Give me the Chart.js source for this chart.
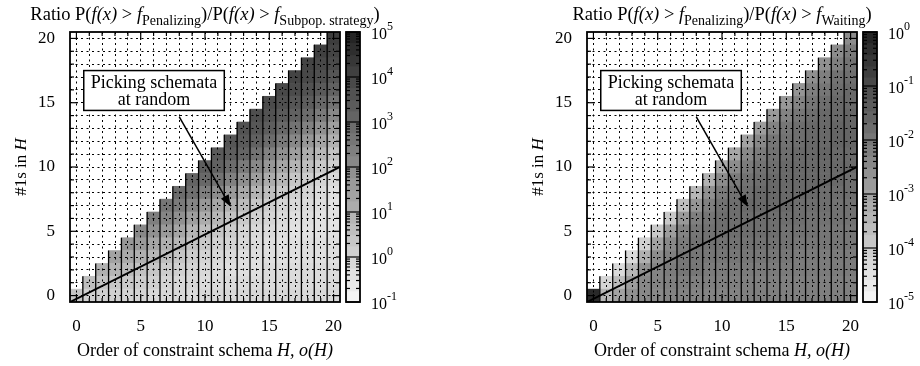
<!DOCTYPE html>
<html lang="en">
<head>
<meta charset="UTF-8">
<title>Ratio heatmaps</title>
<script src="https://cdn.jsdelivr.net/npm/chart.js"></script>
<style>
    html, body { margin: 0; padding: 0; background: #fff; }
    .charts-wrapper { display: flex; width: 920px; height: 366px; }
    .chart-container { position: relative; width: 460px; height: 366px; }
</style>
</head>
<body>
<div class="charts-wrapper">
    <div class="chart-container"><canvas id="subpopChart" width="460" height="366"></canvas></div>
    <div class="chart-container"><canvas id="waitingChart" width="460" height="366"></canvas></div>
</div>

<script>
    // order of constraint schema o(H) (x) and number of 1s in H (y)
    const orders = [0, 1, 2, 3, 4, 5, 6, 7, 8, 9, 10, 11, 12, 13, 14, 15, 16, 17, 18, 19, 20];
    const onesLevels = [0, 1, 2, 3, 4, 5, 6, 7, 8, 9, 10, 11, 12, 13, 14, 15, 16, 17, 18, 19, 20];
    const labelledTicks = [0, 5, 10, 15, 20];

    // log10 of the ratio, one list per column o(H), from the top cell (#1s = o) down to #1s = 0
    const penVsSubpopLog = [
        [0.4],
        [0.6, 0.1],
        [1.0, 0.5, 0.1],
        [1.4, 0.9, 0.4, 0.1],
        [1.7, 1.2, 0.7, 0.3, 0.0],
        [2.1, 1.6, 1.0, 0.5, 0.2, 0.0],
        [2.4, 1.9, 1.3, 0.8, 0.4, 0.1, -0.1],
        [2.6, 2.2, 1.6, 1.0, 0.6, 0.2, 0.0, -0.1],
        [2.9, 2.5, 1.9, 1.3, 0.8, 0.4, 0.1, -0.1, -0.1],
        [3.1, 2.8, 2.2, 1.5, 0.9, 0.5, 0.2, 0.0, -0.1, -0.2],
        [3.3, 3.0, 2.4, 1.7, 1.1, 0.6, 0.3, 0.0, -0.1, -0.2, -0.1],
        [3.4, 3.2, 2.7, 2.0, 1.3, 0.8, 0.4, 0.1, -0.1, -0.2, -0.2, -0.1],
        [3.5, 3.3, 2.9, 2.3, 1.6, 1.0, 0.5, 0.2, 0.0, -0.2, -0.3, -0.2, -0.1],
        [3.6, 3.4, 3.1, 2.5, 1.9, 1.2, 0.7, 0.3, 0.0, -0.1, -0.3, -0.3, -0.2, -0.1],
        [3.7, 3.5, 3.2, 2.7, 2.1, 1.5, 0.9, 0.4, 0.1, -0.1, -0.2, -0.3, -0.3, -0.2, -0.1],
        [3.8, 3.6, 3.3, 2.9, 2.3, 1.7, 1.1, 0.6, 0.2, 0.0, -0.2, -0.3, -0.3, -0.2, -0.2, -0.1],
        [3.9, 3.7, 3.4, 3.0, 2.5, 1.9, 1.3, 0.8, 0.3, 0.0, -0.2, -0.3, -0.4, -0.3, -0.2, -0.2, -0.1],
        [4.0, 3.8, 3.5, 3.2, 2.7, 2.1, 1.5, 0.9, 0.4, 0.1, -0.1, -0.3, -0.4, -0.3, -0.3, -0.2, -0.2, -0.1],
        [4.0, 3.9, 3.6, 3.3, 2.9, 2.3, 1.7, 1.1, 0.6, 0.2, 0.0, -0.2, -0.3, -0.4, -0.3, -0.3, -0.2, -0.2, -0.1],
        [4.1, 3.9, 3.7, 3.4, 3.0, 2.5, 1.9, 1.3, 0.8, 0.3, 0.0, -0.2, -0.3, -0.4, -0.4, -0.3, -0.3, -0.2, -0.2, -0.1],
        [4.2, 4.0, 3.8, 3.5, 3.2, 2.7, 2.1, 1.5, 1.0, 0.5, 0.1, -0.1, -0.3, -0.4, -0.4, -0.4, -0.3, -0.3, -0.2, -0.2, -0.1]
    ];

    const penVsWaitingLog = [
        [-0.2],
        [-4.2, -3.5],
        [-4.3, -3.6, -3.0],
        [-4.3, -3.5, -2.9, -2.6],
        [-4.1, -3.3, -2.6, -2.4, -2.4],
        [-3.9, -3.0, -2.5, -2.3, -2.3, -2.4],
        [-3.9, -2.9, -2.4, -2.2, -2.1, -2.2, -2.3],
        [-3.7, -2.8, -2.3, -2.1, -2.0, -2.0, -2.2, -2.3],
        [-3.5, -2.7, -2.2, -2.0, -1.9, -2.0, -2.0, -2.2, -2.3],
        [-3.4, -2.6, -2.2, -2.0, -1.9, -1.9, -2.0, -2.1, -2.2, -2.3],
        [-3.2, -2.5, -2.1, -1.9, -1.8, -1.8, -1.9, -2.0, -2.1, -2.2, -2.3],
        [-3.1, -2.5, -2.1, -1.9, -1.8, -1.8, -1.8, -1.9, -2.0, -2.1, -2.2, -2.3],
        [-3.0, -2.4, -2.1, -1.9, -1.8, -1.7, -1.8, -1.8, -1.9, -2.0, -2.1, -2.2, -2.2],
        [-2.9, -2.4, -2.1, -1.9, -1.8, -1.7, -1.7, -1.8, -1.8, -1.9, -2.0, -2.1, -2.2, -2.2],
        [-2.8, -2.3, -2.0, -1.9, -1.8, -1.7, -1.7, -1.7, -1.8, -1.8, -1.9, -2.0, -2.1, -2.2, -2.2],
        [-2.8, -2.3, -2.0, -1.9, -1.8, -1.7, -1.7, -1.7, -1.7, -1.8, -1.9, -1.9, -2.0, -2.1, -2.2, -2.2],
        [-2.7, -2.3, -2.0, -1.8, -1.8, -1.7, -1.7, -1.7, -1.7, -1.8, -1.8, -1.9, -2.0, -2.1, -2.1, -2.2, -2.2],
        [-2.6, -2.2, -2.0, -1.8, -1.7, -1.7, -1.7, -1.7, -1.7, -1.7, -1.8, -1.9, -1.9, -2.0, -2.1, -2.1, -2.2, -2.2],
        [-2.6, -2.2, -2.0, -1.8, -1.7, -1.7, -1.7, -1.6, -1.7, -1.7, -1.8, -1.8, -1.9, -2.0, -2.0, -2.1, -2.1, -2.2, -2.2],
        [-2.5, -2.2, -1.9, -1.8, -1.7, -1.7, -1.6, -1.6, -1.7, -1.7, -1.7, -1.8, -1.9, -1.9, -2.0, -2.0, -2.1, -2.1, -2.2, -2.2],
        [-2.5, -2.1, -1.9, -1.8, -1.7, -1.7, -1.6, -1.6, -1.6, -1.7, -1.7, -1.8, -1.8, -1.9, -1.9, -2.0, -2.0, -2.1, -2.1, -2.2, -2.2]
    ];

    // colour bar decades (log10)
    const subpopDecades = [-1, 0, 1, 2, 3, 4, 5];
    const waitingDecades = [-5, -4, -3, -2, -1, 0];

    // "picking schemata at random" line
    const randomPickX = [-0.5, 20.5];
    const randomPickY = [-0.5, 10.0];

    const serif = '"Liberation Serif", "Times New Roman", serif';

    // annotation box + arrow, in data units
    const note = { x0: 0.57, x1: 11.5, y0: 14.4, y1: 17.5, lines: ['Picking schemata', 'at random'] };
    const arrow = { fromX: 8.0, fromY: 13.9, toX: 12.0, toY: 6.9 };

    function grayFor(logVal, lo, hi) {
        let t = (logVal - lo) / (hi - lo);
        t = Math.max(0, Math.min(1, t));
        const g = Math.round(248 - t * 216);
        return `rgb(${g},${g},${g})`;
    }

    // one floating-bar dataset per row (#1s), cells from o = k .. 20
    function buildCells(logCols, lo, hi) {
        return onesLevels.map(k => {
            const pts = [];
            const colors = [];
            orders.forEach(o => {
                if (k > o) return;
                pts.push({ x: o, y: [k - 0.5, k + 0.5] });
                colors.push(grayFor(logCols[o][o - k], lo, hi));
            });
            return {
                type: 'bar', data: pts, backgroundColor: colors, borderWidth: 0,
                barPercentage: 1, categoryPercentage: 1, grouped: false,
                xAxisID: 'x', yAxisID: 'y', order: 2
            };
        });
    }

    // black separators on the left of each column
    function buildSeparators() {
        const pts = [];
        orders.forEach(o => {
            if (o === 0) return;
            pts.push({ x: o - 0.5, y: -0.5 }, { x: o - 0.5, y: o + 0.5 }, { x: o - 0.5, y: NaN });
        });
        return {
            type: 'line', data: pts, borderColor: '#000', borderWidth: 1.3, pointRadius: 0,
            spanGaps: false, xAxisID: 'x', yAxisID: 'y', order: 1
        };
    }

    function buildDiagonal() {
        return {
            type: 'line', data: randomPickX.map((v, i) => ({ x: v, y: randomPickY[i] })),
            borderColor: '#000', borderWidth: 2, pointRadius: 0,
            xAxisID: 'x', yAxisID: 'y', order: 0
        };
    }

    function drawRich(ctx, segs, cx, baseline) {
        let total = 0;
        segs.forEach(s => {
            ctx.font = `${s.it ? 'italic ' : ''}${s.size}px ${serif}`;
            s.w = ctx.measureText(s.t).width;
            total += s.w;
        });
        let x = cx - total / 2;
        ctx.textAlign = 'left';
        ctx.textBaseline = 'alphabetic';
        segs.forEach(s => {
            ctx.font = `${s.it ? 'italic ' : ''}${s.size}px ${serif}`;
            ctx.fillText(s.t, x, baseline + (s.dy || 0));
            x += s.w;
        });
    }

    function titleSegs(strategy) {
        return [
            { t: 'Ratio P(', size: 18.5 }, { t: 'f(x)', size: 18.5, it: true }, { t: ' > ', size: 18.5 },
            { t: 'f', size: 18.5, it: true }, { t: 'Penalizing', size: 14, dy: 5 },
            { t: ')/P(', size: 18.5 }, { t: 'f(x)', size: 18.5, it: true }, { t: ' > ', size: 18.5 },
            { t: 'f', size: 18.5, it: true }, { t: strategy, size: 14, dy: 5 }, { t: ')', size: 18.5 }
        ];
    }

    function decorPlugin(cfg) {
        return {
            id: 'decor',
            afterDraw(chart) {
                const { ctx, chartArea: a } = chart;
                const x = chart.scales.x, y = chart.scales.y, cb = chart.scales.cb;
                const seg = (x1, y1, x2, y2) => { ctx.beginPath(); ctx.moveTo(x1, y1); ctx.lineTo(x2, y2); ctx.stroke(); };
                ctx.save();
                ctx.fillStyle = '#000';
                ctx.strokeStyle = '#000';

                // inward ticks on all four sides
                ctx.lineWidth = 1.2;
                orders.forEach(v => {
                    const len = labelledTicks.includes(v) ? 8 : 4;
                    const px = x.getPixelForValue(v), py = y.getPixelForValue(v);
                    seg(px, a.bottom, px, a.bottom - len);
                    seg(px, a.top, px, a.top + len);
                    seg(a.left, py, a.left + len, py);
                    seg(a.right, py, a.right - len, py);
                });

                // frame
                ctx.lineWidth = 1.8;
                ctx.strokeRect(a.left, a.top, a.right - a.left, a.bottom - a.top);

                // annotation box
                const bx0 = x.getPixelForValue(note.x0), bx1 = x.getPixelForValue(note.x1);
                const by0 = y.getPixelForValue(note.y1), by1 = y.getPixelForValue(note.y0);
                ctx.fillStyle = '#fff';
                ctx.fillRect(bx0, by0, bx1 - bx0, by1 - by0);
                ctx.lineWidth = 1.5;
                ctx.strokeRect(bx0, by0, bx1 - bx0, by1 - by0);
                ctx.fillStyle = '#000';
                ctx.font = `18px ${serif}`;
                ctx.textAlign = 'center';
                ctx.textBaseline = 'alphabetic';
                const bcx = (bx0 + bx1) / 2, bcy = (by0 + by1) / 2;
                ctx.fillText(note.lines[0], bcx, bcy - 3);
                ctx.fillText(note.lines[1], bcx, bcy + 14);

                // arrow
                const fx = x.getPixelForValue(arrow.fromX), fy = y.getPixelForValue(arrow.fromY);
                const tx = x.getPixelForValue(arrow.toX), ty = y.getPixelForValue(arrow.toY);
                const ang = Math.atan2(ty - fy, tx - fx);
                const hl = 12, hw = 4.5;
                ctx.lineWidth = 1.5;
                seg(fx, fy, tx - hl * 0.8 * Math.cos(ang), ty - hl * 0.8 * Math.sin(ang));
                ctx.beginPath();
                ctx.moveTo(tx, ty);
                ctx.lineTo(tx - hl * Math.cos(ang) + hw * Math.sin(ang), ty - hl * Math.sin(ang) - hw * Math.cos(ang));
                ctx.lineTo(tx - hl * Math.cos(ang) - hw * Math.sin(ang), ty - hl * Math.sin(ang) + hw * Math.cos(ang));
                ctx.closePath();
                ctx.fill();

                // colour bar
                const lo = cfg.decades[0], hi = cfg.decades[cfg.decades.length - 1];
                const cbL = a.right + 6, cbW = 14, cbR = cbL + cbW;
                const bands = 24;
                for (let i = 0; i < bands; i++) {
                    const v0 = lo + (hi - lo) * i / bands, v1 = lo + (hi - lo) * (i + 1) / bands;
                    const p0 = cb.getPixelForValue(Math.pow(10, v0)), p1 = cb.getPixelForValue(Math.pow(10, v1));
                    ctx.fillStyle = grayFor((v0 + v1) / 2, lo, hi);
                    ctx.fillRect(cbL, p1, cbW, p0 - p1 + 0.6);
                }
                ctx.strokeStyle = '#000';
                ctx.lineWidth = 1.2;
                cfg.decades.forEach((d, i) => {
                    const py = cb.getPixelForValue(Math.pow(10, d));
                    seg(cbL, py, cbR, py);
                    if (i < cfg.decades.length - 1) {
                        for (let m = 2; m <= 9; m++) {
                            const pm = cb.getPixelForValue(m * Math.pow(10, d));
                            seg(cbL, pm, cbL + 4, pm);
                            seg(cbR - 4, pm, cbR, pm);
                        }
                    }
                });
                ctx.lineWidth = 1.8;
                const cbTop = cb.getPixelForValue(Math.pow(10, hi)), cbBot = cb.getPixelForValue(Math.pow(10, lo));
                ctx.strokeRect(cbL, cbTop, cbW, cbBot - cbTop);

                // colour bar labels 10^n
                ctx.fillStyle = '#000';
                ctx.textAlign = 'left';
                ctx.textBaseline = 'middle';
                cfg.decades.forEach(d => {
                    const py = cb.getPixelForValue(Math.pow(10, d));
                    ctx.font = `16px ${serif}`;
                    const lx = cbR + 11;
                    ctx.fillText('10', lx, py + 3);
                    const w = ctx.measureText('10').width;
                    ctx.font = `12px ${serif}`;
                    ctx.fillText(String(d), lx + w, py - 5);
                });

                // title
                drawRich(ctx, titleSegs(cfg.strategy), (a.left + a.right) / 2, a.top - 12);

                // x title
                drawRich(ctx, [
                    { t: 'Order of constraint schema ', size: 18 },
                    { t: 'H, o(H)', size: 18, it: true }
                ], (a.left + a.right) / 2, a.bottom + 54);

                // y title
                ctx.save();
                ctx.translate(a.left - 50, (a.top + a.bottom) / 2);
                ctx.rotate(-Math.PI / 2);
                drawRich(ctx, [
                    { t: '#1s in ', size: 17 },
                    { t: 'H', size: 17, it: true }
                ], 0, 6);
                ctx.restore();

                ctx.restore();
            }
        };
    }

    function makeChart(canvasId, logCols, cfg) {
        const lo = cfg.decades[0], hi = cfg.decades[cfg.decades.length - 1];
        const tickFont = { family: serif, size: 17 };
        return new Chart(document.getElementById(canvasId), {
            type: 'bar',
            data: {
                datasets: [...buildCells(logCols, lo, hi), buildSeparators(), buildDiagonal()]
            },
            options: {
                responsive: false,
                animation: false,
                devicePixelRatio: 1,
                layout: { padding: { top: 32, right: cfg.padRight, bottom: 0, left: 0 } },
                plugins: { legend: { display: false }, tooltip: { enabled: false } },
                scales: {
                    x: {
                        type: 'linear', min: -0.5, max: 20.5, offset: false,
                        grid: { color: '#000', lineWidth: 1, drawTicks: false, offset: false, z: 1 },
                        border: { display: false, dash: [2, 3.5] },
                        afterBuildTicks: s => { s.ticks = orders.map(v => ({ value: v })); },
                        ticks: {
                            autoSkip: false, maxRotation: 0, padding: 14, color: '#000', font: tickFont,
                            callback: v => labelledTicks.includes(v) ? String(v) : ''
                        },
                        afterFit: s => { s.height = 64; }
                    },
                    y: {
                        type: 'linear', min: -0.5, max: 20.5,
                        grid: { color: '#000', lineWidth: 1, drawTicks: false, z: 1 },
                        border: { display: false, dash: [2, 3.5] },
                        afterBuildTicks: s => { s.ticks = onesLevels.map(v => ({ value: v })); },
                        ticks: {
                            autoSkip: false, padding: 15, color: '#000', font: tickFont,
                            callback: v => labelledTicks.includes(v) ? String(v) : ''
                        },
                        afterFit: s => { s.width = cfg.axisWidth; }
                    },
                    cb: {
                        type: 'logarithmic', display: false, position: 'right',
                        min: Math.pow(10, lo), max: Math.pow(10, hi)
                    }
                }
            },
            plugins: [decorPlugin(cfg)]
        });
    }

    makeChart('subpopChart', penVsSubpopLog, {
        decades: subpopDecades, strategy: 'Subpop. strategy', axisWidth: 70, padRight: 120
    });
    makeChart('waitingChart', penVsWaitingLog, {
        decades: waitingDecades, strategy: 'Waiting', axisWidth: 127, padRight: 63
    });
</script>
</body>
</html>
